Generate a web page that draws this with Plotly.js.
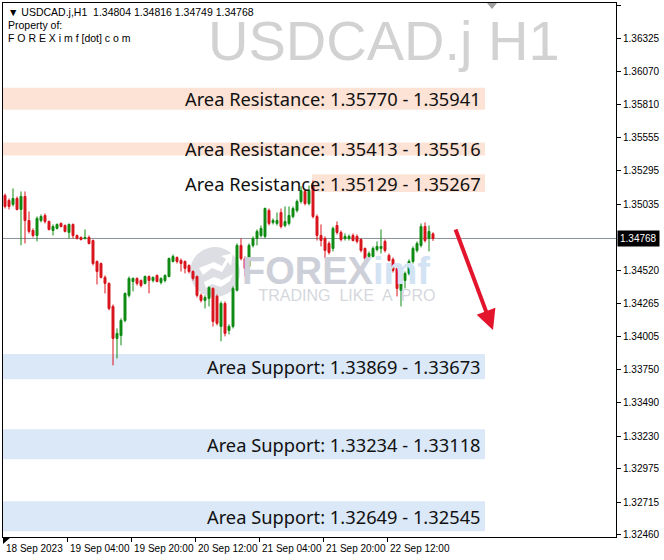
<!DOCTYPE html>
<html><head><meta charset="utf-8">
<script src="https://cdn.plot.ly/plotly-3.0.1.min.js"></script>
<style>html,body{margin:0;padding:0;background:#fff}#chart{width:664px;height:560px}</style>
</head><body><div id="chart"></div>
<script>
// ---- data (USDCAD.j H1, 18 Sep 12:00 -> 22 Sep 23:00) ----
const openP = [1.35103,1.35064,1.35033,1.35079,1.34994,1.35095,1.34908,1.34830,1.34791,1.34908,1.34947,1.34900,1.34830,1.34846,1.34885,1.34869,1.34815,1.34877,1.34791,1.34776,1.34768,1.34776,1.34752,1.34589,1.34573,1.34465,1.34418,1.34239,1.33990,1.34013,1.34130,1.34325,1.34433,1.34457,1.34441,1.34418,1.34472,1.34441,1.34480,1.34426,1.34441,1.34472,1.34589,1.34620,1.34597,1.34589,1.34558,1.34511,1.34472,1.34325,1.34286,1.34301,1.34379,1.34317,1.34083,1.34262,1.34052,1.34083,1.34364,1.34714,1.34612,1.34550,1.34714,1.34768,1.34791,1.34784,1.34986,1.34893,1.34885,1.34970,1.34869,1.34885,1.34939,1.34986,1.35056,1.35134,1.35040,1.35173,1.34939,1.34791,1.34768,1.34729,1.34690,1.34869,1.34815,1.34768,1.34768,1.34791,1.34784,1.34760,1.34690,1.34628,1.34628,1.34682,1.34690,1.34745,1.34636,1.34605,1.34535,1.34364,1.34441,1.34496,1.34589,1.34675,1.34714,1.34861,1.34768,1.34804];
const highP = [1.35118,1.35079,1.35157,1.35095,1.35134,1.35134,1.34978,1.34846,1.34939,1.34955,1.34963,1.34908,1.34877,1.34885,1.34893,1.34877,1.34885,1.34885,1.34799,1.34784,1.34838,1.34791,1.34760,1.34597,1.34581,1.34480,1.34426,1.34254,1.34068,1.34146,1.34348,1.34472,1.34465,1.34465,1.34449,1.34480,1.34480,1.34472,1.34488,1.34465,1.34488,1.34620,1.34643,1.34628,1.34612,1.34597,1.34566,1.34519,1.34480,1.34340,1.34325,1.34395,1.34387,1.34332,1.34278,1.34278,1.34099,1.34395,1.34729,1.34768,1.34628,1.34729,1.34784,1.34838,1.34869,1.35009,1.35001,1.34924,1.34970,1.35001,1.35017,1.35017,1.35017,1.35071,1.35173,1.35157,1.35180,1.35219,1.34955,1.34877,1.34784,1.34745,1.34861,1.34900,1.34830,1.34807,1.34799,1.34807,1.34799,1.34768,1.34698,1.34667,1.34706,1.34745,1.34838,1.34760,1.34651,1.34620,1.34550,1.34465,1.34511,1.34605,1.34706,1.34745,1.34885,1.34893,1.34869,1.34816];
const lowP = [1.35001,1.34994,1.35017,1.34986,1.34714,1.34729,1.34807,1.34776,1.34745,1.34893,1.34885,1.34830,1.34791,1.34838,1.34854,1.34815,1.34768,1.34768,1.34760,1.34752,1.34760,1.34721,1.34558,1.34410,1.34457,1.34340,1.34208,1.33780,1.33834,1.33936,1.34115,1.34309,1.34356,1.34402,1.34387,1.34410,1.34340,1.34426,1.34426,1.34410,1.34426,1.34465,1.34581,1.34573,1.34511,1.34496,1.34496,1.34441,1.34309,1.34270,1.34223,1.34239,1.34083,1.34091,1.33967,1.34006,1.34021,1.34068,1.34356,1.34597,1.34472,1.34535,1.34698,1.34714,1.34776,1.34768,1.34869,1.34877,1.34869,1.34846,1.34854,1.34869,1.34924,1.34970,1.35040,1.35025,1.35025,1.34924,1.34752,1.34706,1.34612,1.34643,1.34667,1.34799,1.34745,1.34752,1.34752,1.34745,1.34729,1.34659,1.34597,1.34612,1.34620,1.34667,1.34651,1.34659,1.34589,1.34503,1.34317,1.34239,1.34379,1.34480,1.34573,1.34659,1.34698,1.34737,1.34667,1.34749];
const closeP = [1.35017,1.35017,1.35079,1.34994,1.35095,1.34908,1.34823,1.34791,1.34924,1.34939,1.34900,1.34838,1.34861,1.34877,1.34861,1.34823,1.34877,1.34791,1.34768,1.34760,1.34776,1.34729,1.34573,1.34511,1.34465,1.34418,1.34223,1.33990,1.34029,1.34130,1.34340,1.34457,1.34457,1.34418,1.34402,1.34472,1.34441,1.34465,1.34433,1.34457,1.34480,1.34612,1.34628,1.34589,1.34573,1.34535,1.34511,1.34457,1.34325,1.34286,1.34309,1.34387,1.34122,1.34107,1.34262,1.34029,1.34083,1.34379,1.34714,1.34612,1.34535,1.34714,1.34768,1.34823,1.34846,1.35001,1.34885,1.34908,1.34908,1.34861,1.34900,1.34947,1.35001,1.35056,1.35141,1.35040,1.35141,1.34939,1.34791,1.34752,1.34675,1.34659,1.34846,1.34815,1.34760,1.34784,1.34784,1.34752,1.34745,1.34675,1.34612,1.34651,1.34690,1.34706,1.34706,1.34675,1.34597,1.34519,1.34379,1.34457,1.34496,1.34589,1.34690,1.34729,1.34861,1.34752,1.34823,1.34768];
const barIndex = openP.map((_, i) => i);

const xTickIndex = [0, 16, 32, 48, 64, 80, 96];
const xTickLabels = ["18 Sep 2023", "19 Sep 04:00", "19 Sep 20:00", "20 Sep 12:00", "21 Sep 04:00", "21 Sep 20:00", "22 Sep 12:00"];
const yTickValues = [1.36585,1.36325,1.36070,1.35810,1.35555,1.35295,1.35035,1.34520,1.34265,1.34005,1.33750,1.33490,1.33230,1.32975,1.32715,1.32460];
const currentPrice = 1.34768;

const zoneTop    = [1.35941, 1.35516, 1.35267, 1.33869, 1.33282, 1.32722];
const zoneBottom = [1.35770, 1.35413, 1.35129, 1.33673, 1.33049, 1.32488];
const zoneStart  = [-0.5, -0.5, 76.75, -0.5, -0.5, -0.5];
const zoneEnd    = [120, 120, 120, 120, 120, 120];
const zoneKind   = ["R", "R", "R", "S", "S", "S"];
const zoneLabels = ["Area Resistance: 1.35770 - 1.35941", "Area Resistance: 1.35413 - 1.35516", "Area Resistance: 1.35129 - 1.35267",
                    "Area Support: 1.33869 - 1.33673", "Area Support: 1.33234 - 1.33118", "Area Support: 1.32649 - 1.32545"];

// ---- layout helpers ----
const M = {l: 3, r: 48, t: 3, b: 23};
const PW = 664 - M.l - M.r, PH = 560 - M.t - M.b;
const px = x => (x - M.l) / PW;
const py = y => (560 - M.b - y) / PH;
const pathOf = pts => 'M ' + pts.map(p => px(p[0]) + ',' + py(p[1])).join(' L ') + ' Z';

const green = '#0f8a12', red = '#d8141c';

const traces = [
  { type: 'scatter', mode: 'text', x: [82.75], y: [1.34484], hoverinfo: 'skip', showlegend: false,
    text: ['<b><span style="color:#cdd0d8">FOREX</span><span style="color:#d3e3f4">imf</span></b>'],
    textfont: {family: 'Liberation Sans', size: 38, color: '#cdd0d8'} },
  { type: 'scatter', mode: 'text', x: [85.5], y: [1.34310], hoverinfo: 'skip', showlegend: false,
    text: ['TRADING  LIKE  A  PRO'],
    textfont: {family: 'Liberation Sans', size: 16, color: '#d5d7dd'} },
  { type: 'candlestick', x: barIndex, open: openP, high: highP, low: lowP, close: closeP,
    increasing: {line: {color: green, width: 1}, fillcolor: green},
    decreasing: {line: {color: red, width: 1}, fillcolor: red},
    whiskerwidth: 0, hoverinfo: 'skip', showlegend: false }
];

const shapes = [];
const annotations = [];
zoneTop.forEach((top, i) => {
  shapes.push({type: 'rect', xref: 'x', yref: 'y', x0: zoneStart[i], x1: zoneEnd[i], y0: zoneBottom[i], y1: top,
    fillcolor: zoneKind[i] === 'R' ? '#fce3d6' : '#dae8f7', line: {width: 0}, layer: 'below'});
  annotations.push({xref: 'x', yref: 'y', x: zoneEnd[i] - 0.6, y: (top + zoneBottom[i]) / 2, xanchor: 'right', yanchor: 'middle',
    text: zoneLabels[i], showarrow: false, font: {family: 'Noto Sans', size: 18.3, color: '#111'}});
});
// current price line
shapes.push({type: 'line', xref: 'paper', yref: 'y', x0: 0, x1: 1, y0: currentPrice, y1: currentPrice,
  line: {color: '#8a9299', width: 1}, layer: 'below'});
// logo circle with white swoosh
shapes.push({type: 'circle', xref: 'paper', yref: 'paper', x0: px(190), x1: px(240), y0: py(297), y1: py(247),
  fillcolor: '#dcdee3', line: {width: 0}, layer: 'below'});
shapes.push({type: 'path', xref: 'paper', yref: 'paper', layer: 'below', fillcolor: '#ffffff', line: {width: 0},
  path: pathOf([[199,268],[214,262],[222,266],[226,259],[221,256],[233,253],[231,266],[228,262],[222,272],[212,268],[203,275]])});
shapes.push({type: 'path', xref: 'paper', yref: 'paper', layer: 'below', fillcolor: '#ffffff', line: {width: 0},
  path: pathOf([[204,282],[214,277],[222,280],[233,274],[230,281],[221,287],[212,284],[206,288]])});
// chart-shift markers
shapes.push({type: 'path', xref: 'paper', yref: 'paper', fillcolor: '#a0a0a0', line: {width: 0},
  path: pathOf([[487,3],[497,3],[492,9]])});
shapes.push({type: 'path', xref: 'paper', yref: 'paper', fillcolor: '#000000', line: {width: 0},
  path: pathOf([[3,537],[11,537],[3,544]])});

xTickIndex.forEach((v, i) => {
  annotations.push({xref: 'x', yref: 'paper', x: v - 0.5, y: py(541), xanchor: 'left', yanchor: 'top', showarrow: false,
    xshift: 1, text: xTickLabels[i], font: {family: 'Liberation Sans', size: 10, color: '#000'}});
});
annotations.push({xref: 'paper', yref: 'y', x: 1, y: currentPrice, xanchor: 'left', yanchor: 'middle', showarrow: false,
  text: currentPrice.toFixed(5), bgcolor: '#000', borderpad: 2, xshift: 1,
  font: {family: 'Liberation Sans', size: 10, color: '#fff'}});
annotations.push({xref: 'paper', yref: 'paper', x: px(384), y: py(41), xanchor: 'center', yanchor: 'middle', showarrow: false,
  text: 'USDCAD.j H1', font: {family: 'Liberation Sans', size: 56, color: '#d2d2d2'}});
annotations.push({xref: 'paper', yref: 'paper', x: px(6), y: py(12), xanchor: 'left', yanchor: 'middle', showarrow: false,
  text: '▼ USDCAD.j,H1  1.34804 1.34816 1.34749 1.34768', font: {family: 'Liberation Sans', size: 10.5, color: '#000'}});
annotations.push({xref: 'paper', yref: 'paper', x: px(6), y: py(25), xanchor: 'left', yanchor: 'middle', showarrow: false,
  text: 'Property of:', font: {family: 'Liberation Sans', size: 10.5, color: '#000'}});
annotations.push({xref: 'paper', yref: 'paper', x: px(6), y: py(38), xanchor: 'left', yanchor: 'middle', showarrow: false,
  text: 'F O R E X i m f [dot] c o m', font: {family: 'Liberation Sans', size: 10.5, color: '#000'}});
// red arrow
annotations.push({xref: 'paper', yref: 'paper', x: px(493), y: py(330), ax: -38, ay: -102, showarrow: true,
  arrowhead: 2, arrowsize: 1, arrowwidth: 4, arrowcolor: '#e2152d', text: ''});

const layout = {
  width: 664, height: 560, margin: M, paper_bgcolor: '#fff', plot_bgcolor: '#fff', showlegend: false,
  xaxis: {type: 'linear', range: [-0.5, 152.75], rangeslider: {visible: false}, showgrid: false, zeroline: false,
    showline: true, mirror: true, linecolor: '#000', linewidth: 1,
    tickvals: xTickIndex.map(v => v - 0.5), ticks: 'outside', ticklen: 4, tickcolor: '#000',
    showticklabels: false, fixedrange: true},
  yaxis: {range: [1.32444, 1.36601], side: 'right', showgrid: false, zeroline: false,
    showline: true, mirror: true, linecolor: '#000', linewidth: 1,
    tickvals: yTickValues, ticktext: yTickValues.map(v => v.toFixed(5)), ticks: 'outside', ticklen: 4, tickcolor: '#000',
    tickfont: {family: 'Liberation Sans', size: 10, color: '#000'}, fixedrange: true},
  shapes, annotations
};
Plotly.newPlot('chart', traces, layout, {displayModeBar: false, staticPlot: true});
</script></body></html>
